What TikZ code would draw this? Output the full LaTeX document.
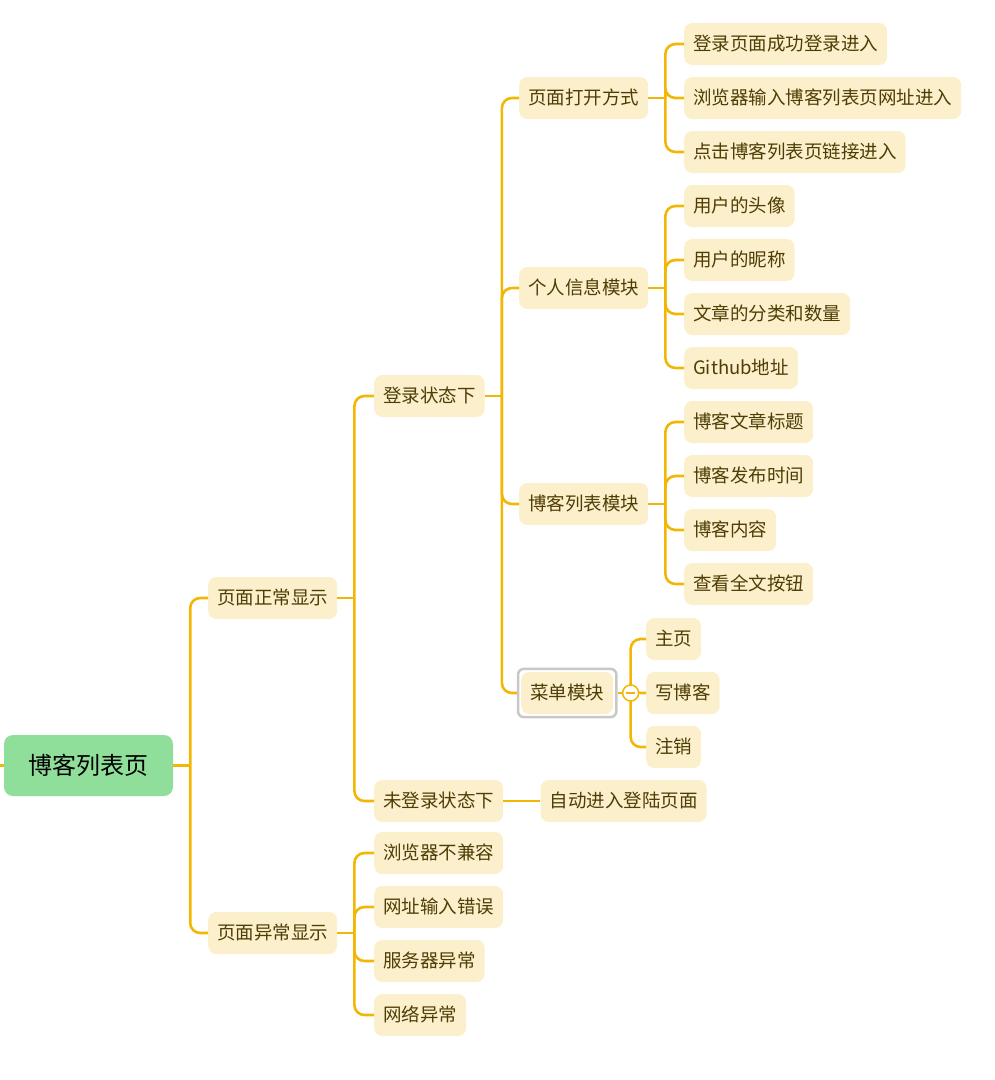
\documentclass[tikz,border=0pt]{standalone}
\usepackage{fontspec}
\newfontfamily\cjk{Noto Sans CJK SC}
\usetikzlibrary{positioning,calc,fit}
\definecolor{branch}{HTML}{F2B705}
\definecolor{topicfill}{HTML}{FCF0CC}
\definecolor{topictext}{HTML}{4F3D05}
\definecolor{rootfill}{HTML}{8FDF9B}
\definecolor{framegray}{HTML}{C8C8C8}

\begin{document}
\begin{tikzpicture}[x=1pt,y=-1pt,
  topic/.style={fill=topicfill, text=topictext, rounded corners=8pt, anchor=west,
    minimum height=42pt, inner xsep=9pt, font={\cjk\fontsize{18.5}{20}\selectfont},
    text height=16pt, text depth=2.5pt},
  link/.style={draw=branch, line width=2.6pt, rounded corners=10pt}]
  \useasboundingbox (0,0) rectangle (995,1080);

  % root and main branches
  \node[fill=rootfill, rounded corners=9pt, minimum height=61pt, minimum width=169pt,
    font={\cjk\fontsize{24}{26}\selectfont}, text height=21pt, text depth=3pt]
    (root) at (88.5,765.5) {博客列表页};
  \node[topic] (normal) at (208,598) {页面正常显示};
  \node[topic] (abnormal) at (208,933) {页面异常显示};

  \node[topic] (login) at (374,396) {登录状态下};
  \node[topic] (nologin) at (374,801) {未登录状态下};
  \node[topic, right=37pt of nologin] (auto) {自动进入登陆页面};
  \node[topic] (compat) at (374,853) {浏览器不兼容};
  \node[topic] (url) at (374,907) {网址输入错误};
  \node[topic] (server) at (374,961) {服务器异常};
  \node[topic] (network) at (374,1015) {网络异常};

  % modules of the logged-in page
  \node[topic] (open) at (519,98) {页面打开方式};
  \node[topic] (info) at (519,288) {个人信息模块};
  \node[topic] (list) at (519,504) {博客列表模块};
  \node[topic] (menu) at (521,693) {菜单模块};
  \node[draw=framegray, line width=2.5pt, rounded corners=6pt, fit=(menu), inner sep=3pt]
    (menuframe) {};

  \foreach \t [count=\i] in {登录页面成功登录进入,浏览器输入博客列表页网址进入,点击博客列表页链接进入}
    \node[topic] (open\i) at (684,{44+54*(\i-1)}) {\t};
  \foreach \t [count=\i] in {用户的头像,用户的昵称,文章的分类和数量,Github地址}
    \node[topic] (info\i) at (684,{206+54*(\i-1)}) {\t};
  \foreach \t [count=\i] in {博客文章标题,博客发布时间,博客内容,查看全文按钮}
    \node[topic] (list\i) at (684,{422+54*(\i-1)}) {\t};
  \foreach \t [count=\i] in {主页,写博客,注销}
    \node[topic] (menu\i) at (646,{639+54*(\i-1)}) {\t};

  % connectors
  \coordinate (edge) at (0,765.5);
  \draw[link] (edge) -- (root.west);
  \coordinate (rootfork) at ($(root.east)+(17,0)$);
  \draw[link] (root.east) -- (rootfork);
  \foreach \c in {normal,abnormal} \draw[link] (rootfork) |- (\c.west);

  \coordinate (normalfork) at ($(normal.east)+(17,0)$);
  \draw[link] (normal.east) -- (normalfork);
  \foreach \c in {login,nologin} \draw[link] (normalfork) |- (\c.west);
  \draw[link] (nologin.east) -- (auto.west);

  \coordinate (abnormalfork) at ($(abnormal.east)+(17,0)$);
  \draw[link] (abnormal.east) -- (abnormalfork);
  \foreach \c in {compat,url,server,network} \draw[link] (abnormalfork) |- (\c.west);

  \coordinate (loginfork) at ($(login.east)+(17,0)$);
  \draw[link] (login.east) -- (loginfork);
  \foreach \c in {open,info,list,menuframe} \draw[link] (loginfork) |- (\c.west);

  \coordinate (openfork) at ($(open.east)+(17,0)$);
  \draw[link] (open.east) -- (openfork);
  \foreach \i in {1,2,3} \draw[link] (openfork) |- (open\i.west);

  \coordinate (infofork) at ($(info.east)+(17,0)$);
  \draw[link] (info.east) -- (infofork);
  \foreach \i in {1,...,4} \draw[link] (infofork) |- (info\i.west);

  \coordinate (listfork) at ($(list.east)+(17,0)$);
  \draw[link] (list.east) -- (listfork);
  \foreach \i in {1,...,4} \draw[link] (listfork) |- (list\i.west);

  \coordinate (fold) at ($(menuframe.east)+(13,0)$);
  \draw[link] (menuframe.east) -- (fold);
  \foreach \i in {1,2,3} \draw[link] (fold) |- (menu\i.west);
  \node[circle, draw=branch, fill=white, line width=1.5pt, minimum size=16pt, inner sep=0pt,
    path picture={\draw[branch, line width=1.5pt]
      ([xshift=-4.5pt]path picture bounding box.center) --
      ([xshift=4.5pt]path picture bounding box.center);}]
    (foldmark) at (fold) {};
\end{tikzpicture}
\end{document}
